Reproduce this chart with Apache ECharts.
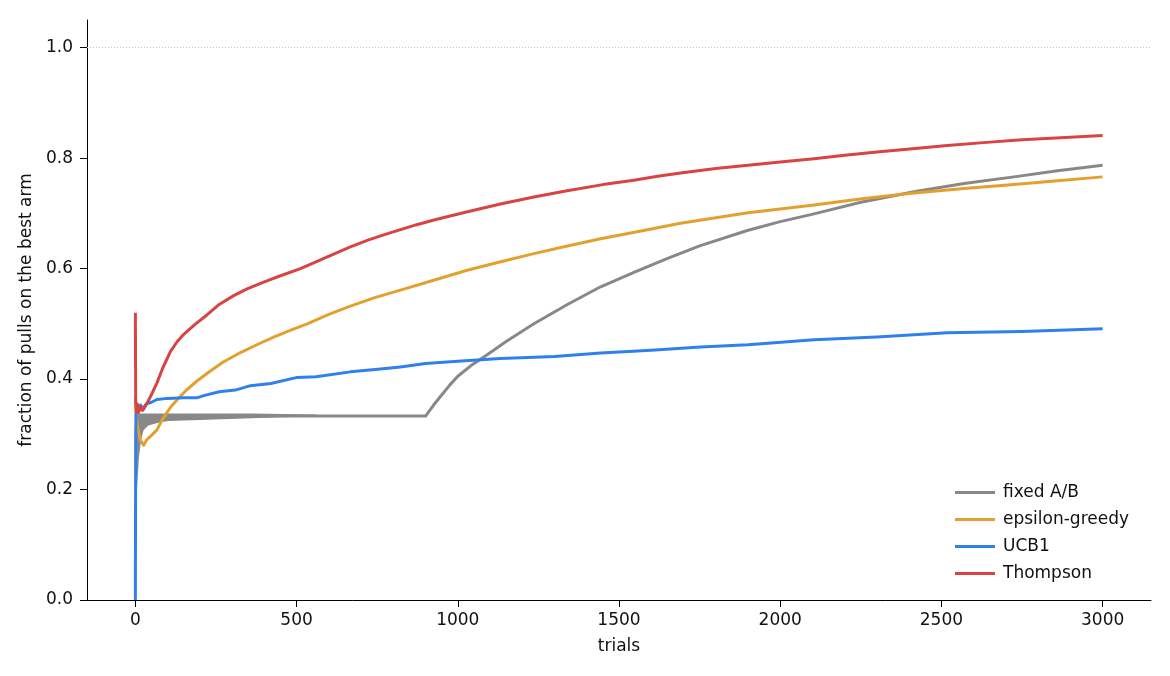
<!DOCTYPE html>
<html>
<head>
<meta charset="utf-8">
<script src="https://cdn.jsdelivr.net/npm/echarts@6/dist/echarts.min.js"></script>
<style>
  html, body { margin: 0; padding: 0; background: #fff; }
  #myChart { width: 1170px; height: 676px; }
</style>
</head>
<body>
<div id="myChart"></div>
<script>
// series names
const seriesNames = ["fixed A/B", "epsilon-greedy", "UCB1", "Thompson"];
const xTicks = [0, 500, 1000, 1500, 2000, 2500, 3000];
const yTicks = [0, 0.2, 0.4, 0.6, 0.8, 1.0];

// [trial, fraction]
const fixedAB = [
  [0, 0.333], [400, 0.333], [900, 0.333], [925, 0.353], [950, 0.371], [975, 0.389],
  [1000, 0.405], [1040, 0.424], [1081, 0.440], [1150, 0.468], [1236, 0.500],
  [1340, 0.535], [1443, 0.567], [1550, 0.594], [1649, 0.618], [1750, 0.641],
  [1898, 0.669], [2000, 0.685], [2105, 0.699], [2250, 0.720], [2415, 0.739],
  [2570, 0.754], [2725, 0.766], [2860, 0.777], [3000, 0.787]
];
// envelope of the early round-robin wobble of fixed A/B
const fixedBandUpper = [[2, 0.3375], [360, 0.3375], [560, 0.336]];
const fixedBandLower = [
  [2, 0.205], [5, 0.200], [8, 0.230], [11, 0.258], [14, 0.271], [18, 0.290],
  [25, 0.307], [40, 0.316], [71, 0.321], [102, 0.324], [200, 0.326], [360, 0.329],
  [450, 0.331], [560, 0.332]
];
const epsGreedy = [
  [0, 0.365], [3, 0.33], [8, 0.31], [15, 0.29], [26, 0.28], [35, 0.29], [50, 0.298],
  [67, 0.308], [85, 0.328], [109, 0.349], [135, 0.366], [160, 0.381], [190, 0.396],
  [222, 0.41], [270, 0.43], [326, 0.448], [380, 0.463], [429, 0.476], [480, 0.488],
  [533, 0.500], [600, 0.517], [667, 0.532], [740, 0.547], [822, 0.561], [920, 0.578],
  [1029, 0.597], [1130, 0.612], [1236, 0.627], [1340, 0.641], [1443, 0.654],
  [1560, 0.667], [1691, 0.682], [1800, 0.692], [1900, 0.701], [2000, 0.708],
  [2105, 0.715], [2260, 0.727], [2415, 0.737], [2570, 0.745], [2725, 0.752],
  [2860, 0.759], [3000, 0.766]
];
const ucb1 = [
  [0, 0.0], [1, 0.30], [2, 0.335], [5, 0.35], [10, 0.34], [16, 0.353], [25, 0.345],
  [35, 0.355], [50, 0.358], [67, 0.363], [100, 0.365], [150, 0.366], [191, 0.366],
  [212, 0.370], [260, 0.377], [310, 0.380], [357, 0.388], [420, 0.392], [502, 0.403],
  [560, 0.404], [667, 0.413], [760, 0.418], [822, 0.422], [900, 0.428], [1000, 0.432],
  [1132, 0.437], [1300, 0.441], [1443, 0.447], [1600, 0.452], [1753, 0.458],
  [1900, 0.462], [2105, 0.471], [2300, 0.476], [2518, 0.484], [2750, 0.486],
  [3000, 0.491]
];
const thompson = [
  [0, 0.52], [1, 0.36], [3, 0.34], [6, 0.355], [10, 0.34], [15, 0.35], [22, 0.343],
  [30, 0.352], [36, 0.356], [50, 0.372], [67, 0.393], [85, 0.42], [109, 0.450],
  [130, 0.468], [150, 0.481], [185, 0.499], [222, 0.516], [260, 0.535], [305, 0.551],
  [350, 0.564], [400, 0.576], [450, 0.587], [512, 0.600], [560, 0.612], [615, 0.626],
  [665, 0.639], [719, 0.651], [770, 0.661], [820, 0.670], [870, 0.679], [926, 0.688],
  [1030, 0.703], [1132, 0.717], [1240, 0.730], [1339, 0.741], [1450, 0.752],
  [1546, 0.760], [1620, 0.767], [1691, 0.773], [1800, 0.781], [1900, 0.787],
  [2000, 0.793], [2105, 0.799], [2200, 0.805], [2300, 0.811], [2410, 0.817],
  [2518, 0.823], [2630, 0.828], [2750, 0.833], [2870, 0.837], [3000, 0.841]
];

const colors = ["#888888", "#e2a12e", "#2f80ea", "#d84343"];
const seriesData = [fixedAB, epsGreedy, ucb1, thompson];

const myChart = echarts.init(document.getElementById("myChart"));
const font = "DejaVu Sans";

const lineSeries = seriesNames.map((name, i) => ({
  name: name,
  type: "line",
  data: seriesData[i],
  showSymbol: false,
  symbol: "none",
  color: colors[i],
  lineStyle: { width: 3, color: colors[i], join: "round" },
  z: 3 + i,
  markLine: i === 0 ? {
    silent: true,
    symbol: "none",
    label: { show: false },
    lineStyle: { type: [1, 2], color: "#c4c4c4", width: 1 },
    data: [{ yAxis: 1.0 }]
  } : undefined
}));

// filled envelope of the fixed A/B wobble
const bandSeries = {
  type: "custom",
  silent: true,
  z: 2,
  data: [0],
  renderItem: function (params, api) {
    const pts = fixedBandUpper.map(p => api.coord(p))
      .concat(fixedBandLower.slice().reverse().map(p => api.coord(p)));
    return { type: "polygon", shape: { points: pts }, style: { fill: colors[0] } };
  }
};

myChart.setOption({
  animation: false,
  textStyle: { fontFamily: font },
  grid: { left: 87, right: 19, top: 20, bottom: 76 },
  legend: {
    orient: "vertical",
    left: 950,
    top: 479,
    icon: "rect",
    itemWidth: 40,
    itemHeight: 3,
    itemGap: 10,
    textStyle: { fontFamily: font, fontSize: 17, color: "#111", padding: [0, 0, 0, 3] },
    data: seriesNames
  },
  xAxis: {
    type: "value",
    min: -150,
    max: 3150,
    name: "trials",
    nameLocation: "middle",
    nameGap: 38,
    nameTextStyle: { fontFamily: font, fontSize: 17, color: "#111" },
    splitLine: { show: false },
    axisLine: { onZero: false, lineStyle: { color: "#000", width: 1 } },
    axisTick: { show: true, length: 7, lineStyle: { color: "#000" },
      customValues: xTicks },
    axisLabel: { fontFamily: font, fontSize: 17, color: "#111", margin: 12,
      customValues: xTicks, formatter: v => String(v) }
  },
  yAxis: {
    type: "value",
    min: 0,
    max: 1.05,
    name: "fraction of pulls on the best arm",
    nameLocation: "middle",
    nameGap: 42,
    nameTextStyle: { fontFamily: font, fontSize: 17, color: "#111" },
    splitLine: { show: false },
    axisLine: { show: true, onZero: false, lineStyle: { color: "#000", width: 1 } },
    axisTick: { show: true, length: 7, lineStyle: { color: "#000" },
      customValues: yTicks },
    axisLabel: { fontFamily: font, fontSize: 17, color: "#111", margin: 14,
      customValues: yTicks, formatter: v => v.toFixed(1) }
  },
  series: [bandSeries].concat(lineSeries)
});
</script>
</body>
</html>
